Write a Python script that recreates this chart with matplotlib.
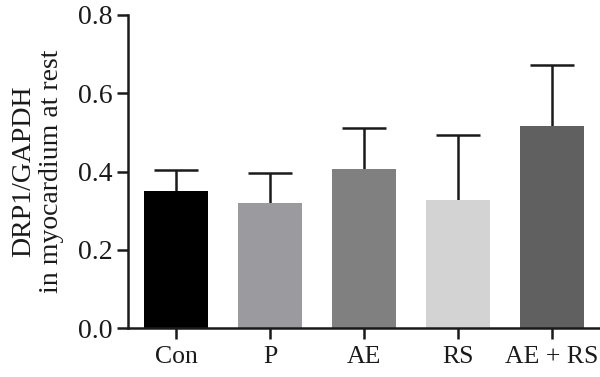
import matplotlib
matplotlib.use('Agg')
import matplotlib.pyplot as plt

# data
groups = ['Con', 'P', 'AE', 'RS', 'AE + RS']
means = [0.350, 0.320, 0.407, 0.327, 0.517]
sd_up = [0.054, 0.075, 0.104, 0.167, 0.154]
bar_colors = ['#000000', '#9b9a9f', '#808080', '#d3d3d3', '#606060']
yticks = [0.0, 0.2, 0.4, 0.6, 0.8]

plt.rcParams['font.family'] = ['Liberation Serif', 'DejaVu Serif']

fig = plt.figure(figsize=(6.0, 3.77), dpi=100)
ax = fig.add_axes([128/600, 1 - 328/377, 472/600, 313/377])

x = range(len(groups))
ax.bar(x, means, width=0.68, color=bar_colors, zorder=2)
eb = ax.errorbar(x, means, yerr=[[0]*len(sd_up), sd_up], fmt='none',
                 ecolor='#1a1a1a', elinewidth=1.8, capsize=15.5, capthick=1.8, zorder=1)
# one-sided bars: hide the cap sitting on the bar top
eb[1][0].set_visible(False)

ax.set_xlim(-0.51, 4.51)
ax.set_ylim(0, 0.8)
ax.set_yticks(yticks)
ax.set_yticklabels(['%.1f' % v for v in yticks])
ax.set_xticks(list(x))
ax.set_xticklabels(groups)
ax.tick_params(axis='both', labelsize=20, width=1.8, length=8, color='#1a1a1a', labelcolor='#1a1a1a')
ax.tick_params(axis='x', pad=5, labelsize=18.5)
ax.tick_params(axis='y', pad=3)

for s in ['top', 'right']:
    ax.spines[s].set_visible(False)
for s in ['left', 'bottom']:
    ax.spines[s].set_linewidth(1.8)
    ax.spines[s].set_color('#1a1a1a')

ax.set_ylabel('DRP1/GAPDH\nin myocardium at rest', fontsize=20, linespacing=1.15,
              color='#1a1a1a', labelpad=10)

fig.savefig('out.png', dpi=100)
